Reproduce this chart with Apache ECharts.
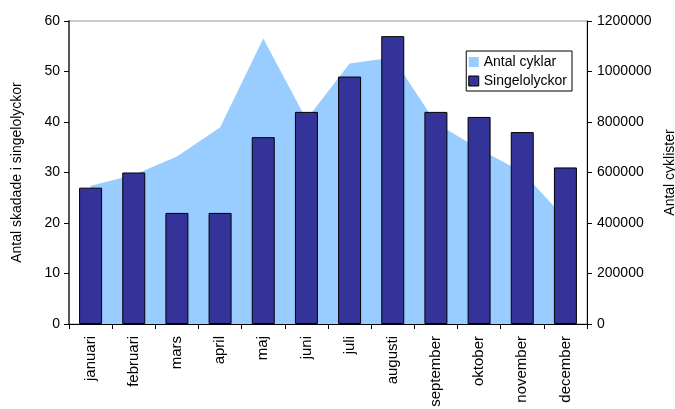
<!DOCTYPE html>
<html>
<head>
<meta charset="utf-8">
<script src="https://cdn.jsdelivr.net/npm/echarts@6/dist/echarts.min.js"></script>
<style>
  html, body { margin: 0; padding: 0; background: #fff; }
  #chart { width: 675px; height: 409px; }
</style>
</head>
<body>
<div id="chart"></div>
<script>
// Months on the category axis
const months = ['januari', 'februari', 'mars', 'april', 'maj', 'juni',
                'juli', 'augusti', 'september', 'oktober', 'november', 'december'];

// Number of injured in single-bicycle accidents per month (left axis)
const singelolyckor = [27, 30, 22, 22, 37, 42, 49, 57, 42, 41, 38, 31];

// Number of cyclists per month (right axis)
const antalCyklar = [548000, 590000, 663000, 778000, 1131000, 810000,
                     1032000, 1055000, 796000, 693000, 602000, 417000];

// Axis ranges and steps
const leftMax = 60, leftStep = 10;
const rightMax = 1200000, rightStep = 200000;

const font = 'Liberation Sans, Arial, sans-serif';

const chart = echarts.init(document.getElementById('chart'), null, { renderer: 'canvas' });

chart.setOption({
  animation: false,
  backgroundColor: '#ffffff',
  textStyle: { fontFamily: font },
  grid: {
    left: 69, right: 88, top: 21, bottom: 85,
    containLabel: false,
    outerBoundsMode: 'none',
    show: true, borderColor: '#999999', borderWidth: 1, backgroundColor: 'transparent'
  },
  legend: {
    orient: 'vertical',
    right: 103, top: 51,
    itemWidth: 10, itemHeight: 10, itemGap: 5,
    padding: [4, 5, 3, 2],
    borderColor: '#000', borderWidth: 1, borderRadius: 0,
    backgroundColor: '#fff',
    textStyle: { fontFamily: font, fontSize: 14, color: '#000', padding: [0, 0, 0, 0] },
    data: [
      { name: 'Antal cyklar', icon: 'rect', itemStyle: { color: '#99CCFF', borderWidth: 0 } },
      { name: 'Singelolyckor', icon: 'rect', itemStyle: { color: '#333399', borderColor: '#000', borderWidth: 1 } }
    ]
  },
  xAxis: {
    type: 'category',
    data: months,
    boundaryGap: true,
    axisLine: { lineStyle: { color: '#000', width: 1 } },
    axisTick: { show: true, length: 5, lineStyle: { color: '#000' } },
    axisLabel: {
      rotate: 90, fontFamily: font, fontSize: 15, color: '#000', margin: 12
    }
  },
  yAxis: [
    {
      type: 'value', min: 0, max: leftMax, interval: leftStep,
      name: 'Antal skadade i singelolyckor',
      nameLocation: 'middle', nameGap: 45, nameRotate: 90,
      nameTextStyle: { fontFamily: font, fontSize: 14, color: '#000' },
      axisLine: { show: true, lineStyle: { color: '#555', width: 2 } },
      axisTick: { show: true, length: 5, lineStyle: { color: '#000' } },
      axisLabel: { fontFamily: font, fontSize: 14, color: '#000', margin: 9 },
      splitLine: { show: false }
    },
    {
      type: 'value', min: 0, max: rightMax, interval: rightStep,
      name: 'Antal cyklister',
      nameLocation: 'middle', nameGap: 76, nameRotate: 90,
      nameTextStyle: { fontFamily: font, fontSize: 14, color: '#000' },
      axisLine: { show: true, lineStyle: { color: '#000', width: 1 } },
      axisTick: { show: true, length: 5, lineStyle: { color: '#000' } },
      axisLabel: { fontFamily: font, fontSize: 14, color: '#000', margin: 10,
                   formatter: v => String(v) },
      splitLine: { show: false }
    }
  ],
  series: [
    {
      name: 'Antal cyklar',
      type: 'line',
      yAxisIndex: 1,
      data: antalCyklar,
      showSymbol: false,
      symbol: 'none',
      lineStyle: { width: 0 },
      areaStyle: { color: '#99CCFF', opacity: 1 },
      itemStyle: { color: '#99CCFF' },
      z: 1
    },
    {
      name: 'Singelolyckor',
      type: 'bar',
      yAxisIndex: 0,
      data: singelolyckor,
      barWidth: 23,
      itemStyle: { color: '#333399', borderColor: '#000', borderWidth: 1 },
      z: 3
    }
  ]
});
</script>
</body>
</html>
